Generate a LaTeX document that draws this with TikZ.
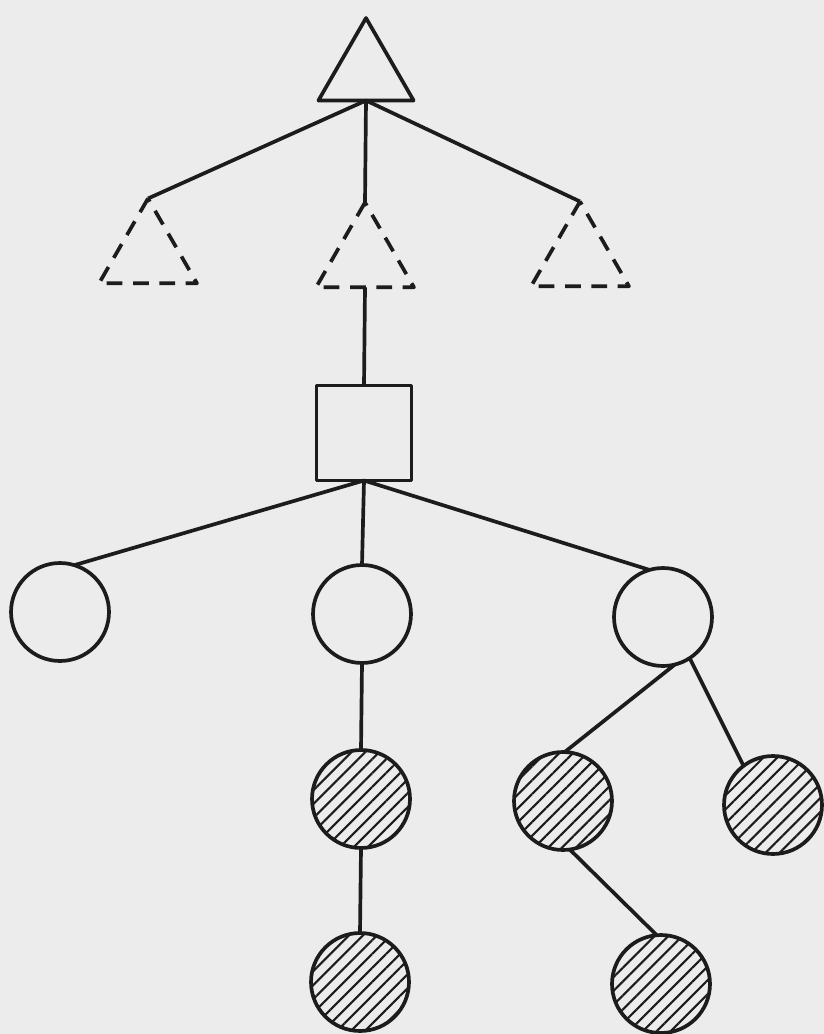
\documentclass[tikz,border=0pt]{standalone}
\usetikzlibrary{shapes.geometric,patterns.meta}
\definecolor{paper}{HTML}{ECECEC}
\definecolor{ink}{HTML}{1C1C1C}
\begin{document}
\begin{tikzpicture}[x=0.02cm,y=-0.02cm,line width=2.1pt,line join=round,
  tri/.style={draw=ink,regular polygon,regular polygon sides=3,minimum size=2.2cm,inner sep=0pt,outer sep=0pt},
  dtri/.style={tri,minimum size=2.26cm,dash pattern=on 9pt off 6pt},
  sqbox/.style={draw=ink,rectangle,minimum size=1.9cm,inner sep=0pt,outer sep=0pt},
  leaf/.style={draw=ink,circle,minimum size=1.96cm,inner sep=0pt,outer sep=0pt},
  hleaf/.style={leaf,pattern={Lines[angle=45,distance=5.6pt,line width=1.2pt]},pattern color=ink},
  edge/.style={draw=ink,line width=2.1pt}]
\fill[paper] (0,0) rectangle (824,1034);
\useasboundingbox (0,0) rectangle (824,1034);
% triangles
\node[tri]  (top) at (366,73) {};
\node[dtri] (tl)  at (148,255) {};
\node[dtri] (tm)  at (365,259) {};
\node[dtri] (tr)  at (580,258) {};
% square
\node[sqbox] (sq) at (364,433) {};
% circles
\node[leaf] (c1) at (60,612) {};
\node[leaf] (c2) at (362,614) {};
\node[leaf] (c3) at (663,617) {};
% hatched circles
\node[hleaf] (h1) at (361,799) {};
\node[hleaf] (h2) at (360,982) {};
\node[hleaf] (h3) at (563,801) {};
\node[hleaf] (h4) at (773,805) {};
\node[hleaf] (h5) at (661,984) {};
% connectors
\draw[edge] (top.side 2) -- (tl.corner 1);
\draw[edge] (top.side 2) -- (tm.corner 1);
\draw[edge] (top.side 2) -- (tr.corner 1);
\draw[edge] (tm.side 2) -- (sq.north);
\draw[edge] (sq.south) -- (c1.73);
\draw[edge] (sq.south) -- (c2.north);
\draw[edge] (sq.south) -- (c3.106);
\draw[edge] (c2.south) -- (h1.north);
\draw[edge] (h1.south) -- (h2.north);
\draw[edge] (c3.-76) -- (h3.88);
\draw[edge] (c3.-57) -- (h4.127);
\draw[edge] (h3.-82) -- (h5.95);
\end{tikzpicture}
\end{document}
